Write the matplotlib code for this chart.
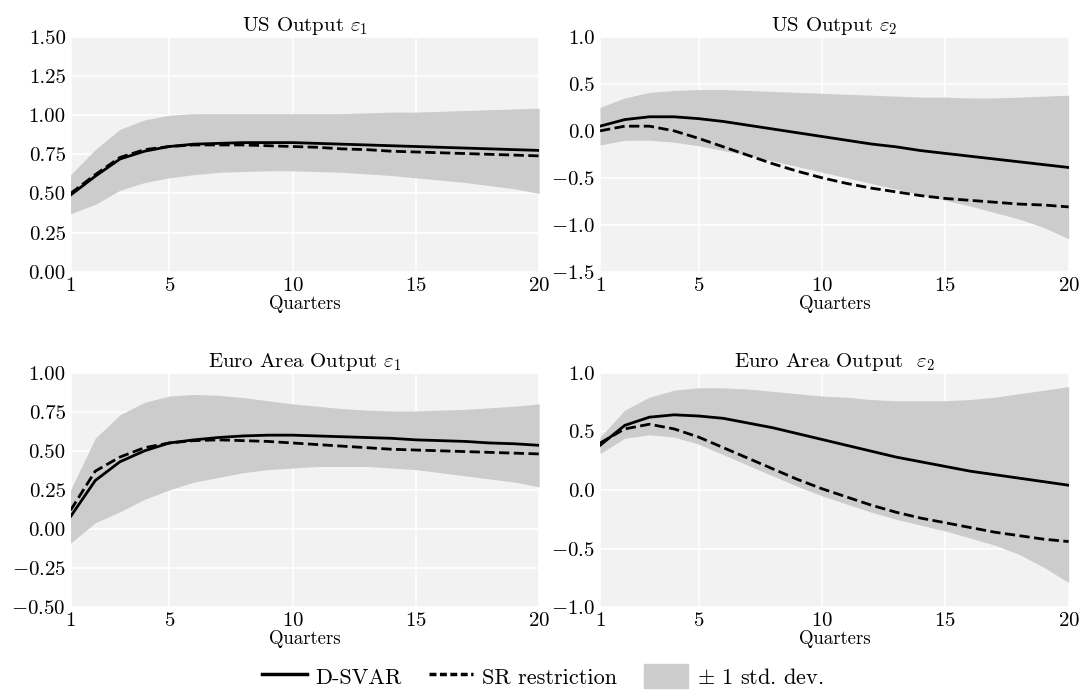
import matplotlib
matplotlib.use("Agg")
import matplotlib.pyplot as plt
from matplotlib.patches import Patch
from matplotlib.lines import Line2D
import numpy as np

plt.rcParams["font.family"] = ["cmr10", "DejaVu Serif"]
plt.rcParams["mathtext.fontset"] = "cm"
plt.rcParams["axes.formatter.use_mathtext"] = True
plt.rcParams["font.size"] = 14

quarters = np.arange(1, 21)

us1_dsvar = [0.49, 0.61, 0.72, 0.77, 0.80, 0.815, 0.82, 0.825, 0.825, 0.825, 0.82, 0.815, 0.81, 0.805, 0.80, 0.795, 0.79, 0.785, 0.78, 0.775]
us1_sr = [0.50, 0.62, 0.73, 0.78, 0.80, 0.81, 0.81, 0.81, 0.805, 0.80, 0.795, 0.785, 0.78, 0.77, 0.765, 0.76, 0.755, 0.75, 0.745, 0.74]
us1_hi = [0.62, 0.78, 0.91, 0.97, 1.0, 1.01, 1.01, 1.01, 1.01, 1.01, 1.01, 1.01, 1.015, 1.02, 1.02, 1.025, 1.03, 1.035, 1.04, 1.045]
us1_lo = [0.37, 0.43, 0.52, 0.57, 0.60, 0.62, 0.635, 0.64, 0.645, 0.645, 0.64, 0.635, 0.625, 0.615, 0.60, 0.585, 0.57, 0.55, 0.53, 0.50]

us2_dsvar = [0.05, 0.12, 0.15, 0.15, 0.13, 0.10, 0.06, 0.02, -0.02, -0.06, -0.10, -0.14, -0.17, -0.21, -0.24, -0.27, -0.30, -0.33, -0.36, -0.39]
us2_sr = [0.0, 0.05, 0.05, 0.0, -0.08, -0.17, -0.26, -0.35, -0.43, -0.50, -0.56, -0.61, -0.65, -0.69, -0.72, -0.74, -0.76, -0.78, -0.79, -0.81]
us2_hi = [0.25, 0.35, 0.41, 0.43, 0.44, 0.44, 0.43, 0.42, 0.41, 0.40, 0.39, 0.38, 0.37, 0.36, 0.36, 0.35, 0.35, 0.36, 0.37, 0.38]
us2_lo = [-0.15, -0.10, -0.10, -0.12, -0.16, -0.21, -0.26, -0.32, -0.38, -0.44, -0.50, -0.56, -0.62, -0.68, -0.74, -0.80, -0.87, -0.94, -1.03, -1.15]

ea1_dsvar = [0.08, 0.31, 0.43, 0.50, 0.55, 0.57, 0.585, 0.595, 0.60, 0.60, 0.595, 0.59, 0.585, 0.58, 0.57, 0.565, 0.56, 0.55, 0.545, 0.535]
ea1_sr = [0.12, 0.37, 0.46, 0.52, 0.55, 0.565, 0.57, 0.565, 0.56, 0.55, 0.54, 0.53, 0.52, 0.51, 0.505, 0.50, 0.495, 0.49, 0.485, 0.48]
ea1_hi = [0.25, 0.58, 0.73, 0.81, 0.85, 0.86, 0.855, 0.84, 0.82, 0.80, 0.785, 0.77, 0.76, 0.755, 0.755, 0.76, 0.765, 0.775, 0.785, 0.80]
ea1_lo = [-0.09, 0.04, 0.11, 0.19, 0.25, 0.30, 0.33, 0.36, 0.38, 0.39, 0.40, 0.40, 0.40, 0.39, 0.38, 0.36, 0.34, 0.32, 0.30, 0.27]

ea2_dsvar = [0.38, 0.55, 0.62, 0.64, 0.63, 0.61, 0.57, 0.53, 0.48, 0.43, 0.38, 0.33, 0.28, 0.24, 0.20, 0.16, 0.13, 0.10, 0.07, 0.04]
ea2_sr = [0.40, 0.52, 0.56, 0.52, 0.45, 0.36, 0.27, 0.18, 0.09, 0.01, -0.06, -0.13, -0.19, -0.24, -0.28, -0.32, -0.36, -0.39, -0.42, -0.44]
ea2_hi = [0.45, 0.68, 0.79, 0.85, 0.87, 0.87, 0.86, 0.84, 0.82, 0.80, 0.79, 0.77, 0.76, 0.76, 0.76, 0.77, 0.79, 0.82, 0.85, 0.88]
ea2_lo = [0.31, 0.44, 0.47, 0.45, 0.39, 0.30, 0.21, 0.12, 0.03, -0.05, -0.12, -0.19, -0.25, -0.30, -0.35, -0.41, -0.47, -0.55, -0.66, -0.79]

panels = [
    (r"US Output $\varepsilon_1$", us1_dsvar, us1_sr, us1_lo, us1_hi, (0, 1.5), np.arange(0, 1.51, 0.25), "%.2f"),
    (r"US Output $\varepsilon_2$", us2_dsvar, us2_sr, us2_lo, us2_hi, (-1.5, 1.0), np.arange(-1.5, 1.01, 0.5), "%.1f"),
    (r"Euro Area Output $\varepsilon_1$", ea1_dsvar, ea1_sr, ea1_lo, ea1_hi, (-0.5, 1.0), np.arange(-0.5, 1.01, 0.25), "%.2f"),
    (r"Euro Area Output  $\varepsilon_2$", ea2_dsvar, ea2_sr, ea2_lo, ea2_hi, (-1.0, 1.0), np.arange(-1.0, 1.01, 0.5), "%.1f"),
]

fig, axes = plt.subplots(2, 2, figsize=(10.86, 6.98), dpi=100)
for ax, (title, d, sr, lo, hi, ylim, yt, fmt) in zip(axes.flat, panels):
    ax.set_facecolor("#f2f2f2")
    ax.grid(color="white", linewidth=1.2)
    ax.set_axisbelow(True)
    for s in ax.spines.values():
        s.set_visible(False)
    ax.tick_params(length=0, labelsize=15)
    ax.fill_between(quarters, lo, hi, color="#cccccc", linewidth=0)
    ax.plot(quarters, d, color="black", linewidth=2)
    ax.plot(quarters, sr, color="black", linewidth=2, linestyle="--")
    ax.set_xlim(1, 20)
    ax.set_xticks([1, 5, 10, 15, 20])
    ax.set_ylim(*ylim)
    ax.set_yticks(yt)
    ax.set_yticklabels([("$-$" if v < 0 else "") + fmt % abs(v) for v in yt])
    ax.set_title(title, fontsize=15, pad=4)
    ax.set_xlabel("Quarters", fontsize=13.5, labelpad=0)

handles = [Line2D([], [], color="black", linewidth=2.5),
           Line2D([], [], color="black", linewidth=2.5, linestyle=(0, (2, 1))),
           Patch(color="#cccccc")]
fig.legend(handles, ["D-SVAR", "SR restriction", r"$\pm$ 1 std. dev."],
           loc="lower center", ncol=3, frameon=False, fontsize=16,
           handlelength=2.0, handleheight=1.3, handletextpad=0.4,
           columnspacing=1.2, bbox_to_anchor=(0.5, -0.015))
fig.subplots_adjust(left=0.065, right=0.984, top=0.947, bottom=0.13, hspace=0.43, wspace=0.13)
fig.savefig("out.png")
